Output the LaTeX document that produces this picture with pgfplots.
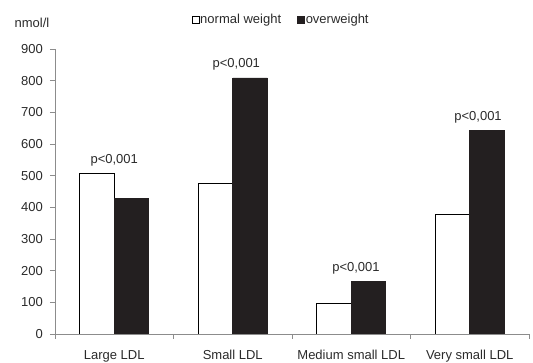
\documentclass[border=0pt]{standalone}
\usepackage{pgfplots}
\pgfplotsset{compat=1.18}
\usepackage{pgfplotstable}
\usepackage{fontspec}
\setmainfont{Liberation Sans}

\definecolor{barDark}{HTML}{231F20}
\definecolor{axisGrey}{HTML}{8C8C8C}
\definecolor{txt}{HTML}{2A2A2A}

% LDL subfraction concentrations (nmol/l)
\pgfplotstableread{
x normal over
0 507 428
1 476 809
2 98  167
3 377 643
}\ldl

\begin{document}
\begin{tikzpicture}[font=\fontsize{13}{15}\selectfont, text=txt]
\begin{axis}[
  scale only axis, width=474pt, height=285pt,
  xmin=-0.5, xmax=3.5, ymin=0, ymax=900,
  enlargelimits=false,
  ybar=0pt, bar width=34.5pt,
  axis x line*=bottom, axis y line*=left,
  axis line style={axisGrey, line width=0.6pt},
  xtick={0,1,2,3},
  xticklabels={Large LDL, Small LDL, Medium small LDL, Very small LDL},
  major x tick style={draw=none},
  minor xtick={-0.5,0.5,1.5,2.5,3.5},
  ytick={0,100,...,900},
  tick align=outside,
  major tick length=5pt, minor tick length=5pt,
  tick style={axisGrey, line width=0.6pt},
  /pgf/number format/assume math mode=true,
  xticklabel style={inner sep=0pt, yshift=-11pt},
  yticklabel style={inner sep=0pt, xshift=-7pt},
  legend style={draw=none, fill=none, at={(0.476,1.102)}, anchor=center,
    inner sep=0pt, legend columns=2,
    /tikz/every even column/.append style={column sep=15pt},
    nodes={inner sep=1pt}},
]
\addplot[fill=white, draw=black, line width=0.6pt,
  legend image code/.code={\draw[fill=white, draw=black, line width=0.6pt] (0pt,-3.5pt) rectangle (7pt,3.5pt);}]
  table[x=x, y=normal] {\ldl};
\addlegendentry{normal weight}
\addplot[fill=barDark, draw=barDark, line width=0.6pt,
  legend image code/.code={\draw[fill=barDark, draw=barDark, line width=0.6pt] (0pt,-3.5pt) rectangle (7pt,3.5pt);}]
  table[x=x, y=over] {\ldl};
\addlegendentry{overweight}

% significance labels above each pair
\node[anchor=south, inner sep=0pt, yshift=7pt] at (axis cs:0.00,507) {p<0,001};
\node[anchor=south, inner sep=0pt, yshift=7pt] at (axis cs:1.03,809) {p<0,001};
\node[anchor=south, inner sep=0pt, yshift=7pt] at (axis cs:2.04,167) {p<0,001};
\node[anchor=south, inner sep=0pt, yshift=7pt] at (axis cs:3.07,643) {p<0,001};
\end{axis}
% unit label above the y axis
\node[anchor=center] at ([shift={(-23pt,26pt)}]current axis.north west) {nmol/l};
\path ([shift={(-55pt,-23pt)}]current axis.south west) rectangle ++(533pt,357pt);
\end{tikzpicture}
\end{document}
